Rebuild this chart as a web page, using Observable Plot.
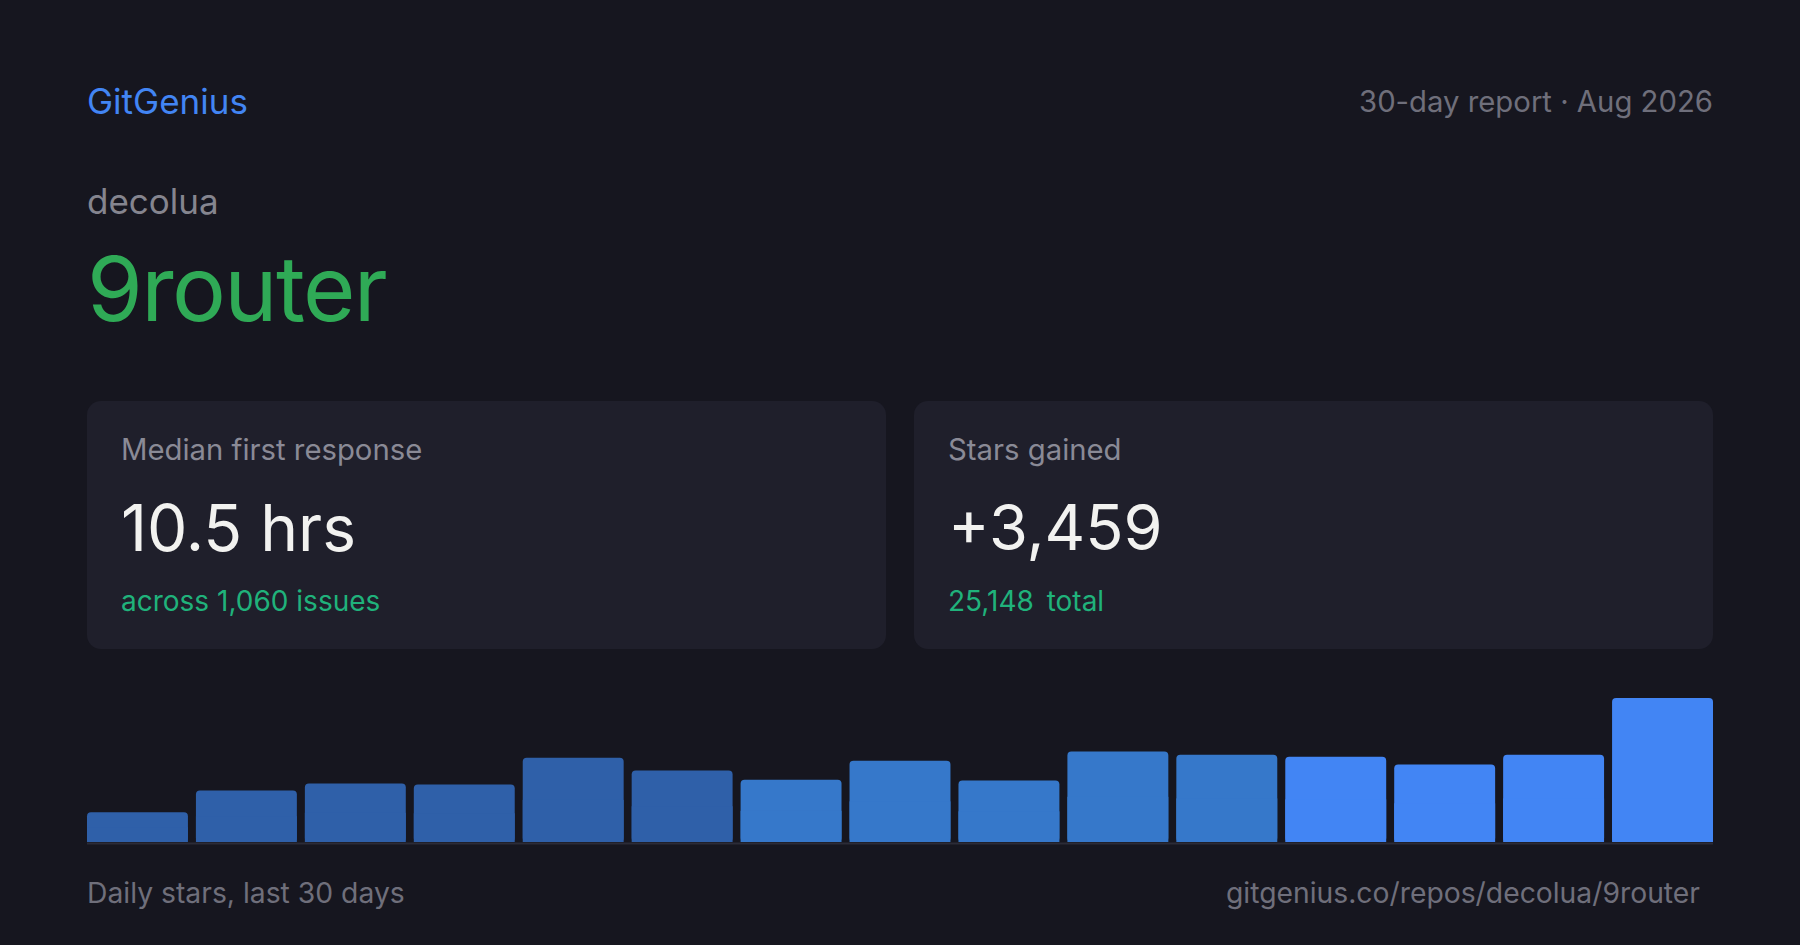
<!DOCTYPE html>
<html>
<head>
<meta charset="utf-8">
<script src="https://cdn.jsdelivr.net/npm/d3@7"></script>
<script src="https://cdn.jsdelivr.net/npm/@observablehq/plot@0.6"></script>
<style>
  html, body { margin: 0; padding: 0; }
  body { width: 1800px; height: 945px; background: #16161f; font-family: Inter, "Noto Sans", sans-serif; position: relative; overflow: hidden; }
  .t { position: absolute; line-height: 1; white-space: nowrap; }
  .card { position: absolute; top: 401px; width: 799px; height: 248px; background: #1f1f2b; border-radius: 14px; }
  .card .t { left: 34px; }
  #chart { position: absolute; left: 87px; top: 692px; }
</style>
</head>
<body>
<div class="t" style="left:87px;top:84px;font-size:35px;color:#4285f4;">GitGenius</div>
<div class="t" style="right:87px;top:87px;font-size:29.3px;color:#6f6f7b;">30-day report · Aug 2026</div>
<div class="t" style="left:87px;top:184px;font-size:35px;color:#85858f;">decolua</div>
<div class="t" style="left:87px;top:244px;font-size:90px;color:#2faa56;letter-spacing:-1.6px;">9router</div>

<div class="card" style="left:87px;">
  <div class="t" style="top:34px;font-size:29.3px;color:#8a8a96;">Median first response</div>
  <div class="t" style="top:95px;font-size:64px;color:#f2f2f0;">10.5 hrs</div>
  <div class="t" style="top:186px;font-size:28px;color:#20b27b;">across 1,060 issues</div>
</div>
<div class="card" style="left:914px;">
  <div class="t" style="top:34px;font-size:29.3px;color:#8a8a96;">Stars gained</div>
  <div class="t" style="top:95px;font-size:63px;color:#f2f2f0;">+3,459</div>
  <div class="t" style="top:186px;font-size:28px;color:#20b27b;word-spacing:5px;">25,148 total</div>
</div>

<div id="chart"></div>

<div class="t" style="left:87px;top:879px;font-size:28.3px;color:#6f6f7b;">Daily stars, last 30 days</div>
<div class="t" style="right:100px;top:879px;font-size:28.3px;color:#6f6f7b;">gitgenius.co/repos/decolua/9router</div>

<script>
const bins = ["1","2","3","4","5","6","7","8","9","10","11","12","13","14","15"];
const stars = [91, 158, 179, 176, 258, 219, 191, 249, 188, 277, 267, 261, 237, 267, 441];
const tiers = [0, 0, 0, 0, 0, 0, 1, 1, 1, 1, 1, 2, 2, 2, 2];
const tierColors = ["#2f60a9", "#3678ca", "#4285f4"];

const data = bins.map((b, i) => ({bin: b, stars: stars[i], tier: tiers[i]}));

const chart = Plot.plot({
  width: 1626,
  height: 160,
  marginTop: 6,
  marginBottom: 10,
  marginLeft: 0,
  marginRight: 0,
  style: {background: "transparent", overflow: "visible"},
  x: {domain: bins, paddingInner: 8 / 108.9, paddingOuter: 0, round: false, axis: null},
  y: {domain: [0, d3.max(stars)], axis: null},
  color: {type: "ordinal", domain: [0, 1, 2], range: tierColors},
  marks: [
    Plot.barY(data, {x: "bin", y: "stars", fill: "tier", rx: 4}),
    Plot.barY(data, {x: "bin", y: d => d.stars / 2, fill: "tier"}),
    Plot.ruleY([0], {stroke: "#2b2b37", strokeWidth: 2, dy: 1})
  ]
});
document.getElementById("chart").appendChild(chart);
</script>
</body>
</html>
